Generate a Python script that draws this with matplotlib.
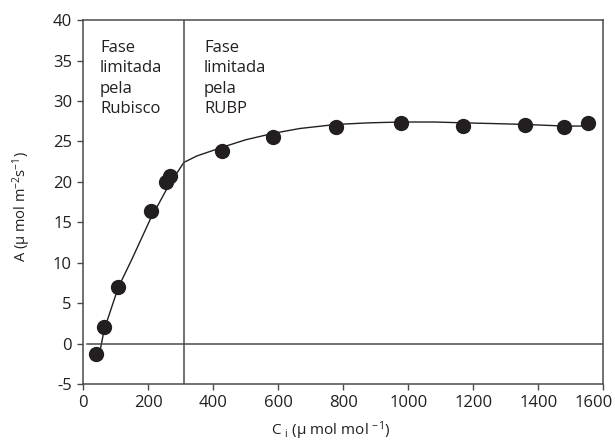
import matplotlib
matplotlib.use("Agg")
import matplotlib.pyplot as plt
from matplotlib.transforms import ScaledTranslation

plt.rcParams['font.family'] = ['Open Sans', 'DejaVu Sans']
plt.rcParams['mathtext.fontset'] = 'custom'
plt.rcParams['mathtext.rm'] = 'Open Sans'
plt.rcParams['mathtext.it'] = 'Open Sans'
plt.rcParams['mathtext.default'] = 'rm'
plt.rcParams['axes.unicode_minus'] = False

# Observed points
ci = [40, 65, 108, 208, 254, 267, 426, 585, 778, 978, 1169, 1360, 1480, 1552]
A = [-1.3, 2.0, 7.0, 16.4, 20.0, 20.7, 23.8, 25.5, 26.8, 27.3, 26.9, 27.0, 26.8, 27.3]

# Fitted curve
rub_x = [52, 65, 108, 150, 206, 260, 310]
rub_y = [-1.0, 1.7, 6.9, 10.4, 15.3, 19.3, 22.4]
rubp_x = [310, 350, 430, 500, 585, 667, 778, 880, 978, 1080, 1169, 1270, 1360, 1480, 1555]
rubp_y = [22.4, 23.2, 24.3, 25.2, 26.0, 26.6, 27.1, 27.3, 27.4, 27.4, 27.3, 27.2, 27.1, 26.9, 26.9]

xticks = list(range(0, 1601, 200))
yticks = list(range(-5, 41, 5))
x_limit = 310

ink = '#231f20'
axc = '#4a4a4a'

fig = plt.figure(figsize=(6.15, 4.48), dpi=100)
ax = fig.add_axes([0.135, 0.143, 0.846, 0.812])

ax.plot(rub_x, rub_y, color=ink, lw=1.0)
ax.plot(rubp_x, rubp_y, color=ink, lw=1.0)
ax.axhline(0, xmin=0.008, xmax=1, color=axc, lw=1.1)
ax.axvline(x_limit, color=axc, lw=1.1)
ax.plot(ci, A, 'o', color=ink, markersize=10, zorder=5)

ax.set_xlim(0, 1600)
ax.set_ylim(-5, 40)
ax.set_xticks(xticks)
ax.set_yticks(yticks)
for s in ax.spines.values():
    s.set_color(axc)
    s.set_linewidth(1.1)
ax.tick_params(direction='out', length=4, width=1.0, color=axc, labelsize=12,
               labelcolor='#231f20', top=False, right=False, pad=4)

last = ax.get_xticklabels()[-1]
last.set_transform(last.get_transform() + ScaledTranslation(-0.10, 0, fig.dpi_scale_trans))

ax.text(52, 37.6, 'Fase\nlimitada\npela\nRubisco', fontsize=12, va='top', ha='left',
        color=ink, linespacing=1.38)
ax.text(372, 37.6, 'Fase\nlimitada\npela\nRUBP', fontsize=12, va='top', ha='left',
        color=ink, linespacing=1.38)

fig.text(0.537, 0.013, r'C $_{i}$ (µ mol mol $^{-1}$)', fontsize=11, ha='center',
         va='bottom', color=ink)
fig.text(0.036, 0.538, r'A (µ mol m$^{-2}$s$^{-1}$)', fontsize=10.5, ha='center',
         va='center', rotation=90, color=ink)

fig.savefig('out.png', dpi=100)
